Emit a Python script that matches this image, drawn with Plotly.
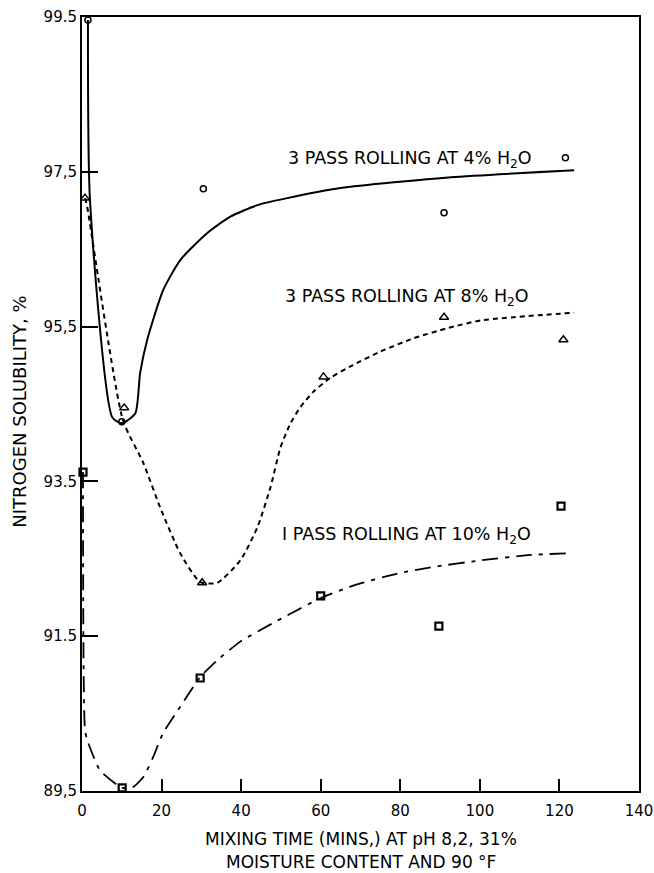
import plotly.graph_objects as go

# ---- data ----
# measured points
circ_x = [1.5, 10, 30.5, 91, 121.5]
circ_y = [99.46, 94.27, 97.28, 96.97, 97.68]
tri_x = [0.75, 10.6, 30.2, 60.7, 91, 121]
tri_y = [97.16, 94.45, 92.19, 94.85, 95.62, 95.33]
sq_x = [0.25, 10.1, 29.7, 60, 89.7, 120.4]
sq_y = [93.62, 89.54, 90.96, 92.02, 91.63, 93.18]

# hand-drawn fitted curves (traced)
c4_x = [1.5, 2.0, 7.6, 10, 13.4, 14.6, 16.4, 20.4, 24.7, 31.5, 37.3, 44.1, 51.6, 65, 92.7, 123.7]
c4_y = [99.46, 97.14, 94.33, 94.25, 94.38, 94.9, 95.33, 95.97, 96.36, 96.71, 96.92, 97.07, 97.16, 97.29, 97.43, 97.52]
c8_x = [0.8, 1.3, 10.3, 15.4, 19.6, 24.7, 29.7, 34, 39.8, 44.1, 47.4, 49.9, 52.4, 54.9, 58.2, 62.5, 68, 75.1, 83.4, 91.9, 100.3, 123.7]
c8_y = [97.16, 97.05, 94.29, 93.74, 93.17, 92.57, 92.2, 92.19, 92.48, 92.91, 93.43, 93.94, 94.25, 94.46, 94.66, 94.84, 95.0, 95.18, 95.35, 95.48, 95.58, 95.68]
c10_x = [0.25, 0.75, 1.3, 4.5, 8.8, 10.1, 12.8, 15.4, 17.9, 20.4, 24.7, 29.7, 34, 39.8, 46.6, 53.1, 59.9, 68, 79.3, 87.7, 100.3, 112.8, 122.2]
c10_y = [93.62, 90.29, 90.16, 89.77, 89.58, 89.54, 89.55, 89.68, 89.94, 90.25, 90.59, 90.97, 91.19, 91.43, 91.63, 91.81, 91.99, 92.15, 92.31, 92.39, 92.48, 92.55, 92.57]

x_ticks = [0, 20, 40, 60, 80, 100, 120, 140]
y_ticks = [89.5, 91.5, 93.5, 95.5, 97.5, 99.5]
y_ticktext = ["89,5", "91.5", "93.5", "95,5", "97,5", "99.5"]

labels = ["3 PASS ROLLING AT 4% H<sub>2</sub>O",
          "3 PASS ROLLING AT 8% H<sub>2</sub>O",
          "I PASS ROLLING AT 10% H<sub>2</sub>O"]
label_x = [51.2, 50.6, 49.8]
label_y = [97.66, 95.88, 92.8]

x_title_lines = ["MIXING TIME (MINS,) AT pH 8,2, 31%", "MOISTURE CONTENT AND 90 °F"]
y_title = "NITROGEN SOLUBILITY, %"

FONT = "DejaVu Sans"
W, H = 654, 873
ML, MR, MT, MB = 82, 15, 17, 82
PW, PH = W - ML - MR, H - MT - MB

fig = go.Figure()
fig.add_trace(go.Scatter(x=c4_x, y=c4_y, mode="lines",
                         line=dict(color="black", width=2, shape="spline", smoothing=0.6),
                         hoverinfo="skip", cliponaxis=False))
fig.add_trace(go.Scatter(x=c8_x, y=c8_y, mode="lines",
                         line=dict(color="black", width=2, shape="spline", smoothing=0.6, dash="5px,4px"),
                         hoverinfo="skip", cliponaxis=False))
fig.add_trace(go.Scatter(x=c10_x, y=c10_y, mode="lines",
                         line=dict(color="black", width=1.8, shape="spline", smoothing=0.6, dash="16px,7px,4px,7px"),
                         hoverinfo="skip", cliponaxis=False))
fig.add_trace(go.Scatter(x=circ_x, y=circ_y, mode="markers",
                         marker=dict(symbol="circle-open", size=6, color="black", line=dict(width=1.5)),
                         cliponaxis=False))
fig.add_trace(go.Scatter(x=tri_x, y=tri_y, mode="markers",
                         marker=dict(symbol="triangle-up-open", size=8, color="black", line=dict(width=1.5)),
                         cliponaxis=False))
fig.add_trace(go.Scatter(x=sq_x, y=sq_y, mode="markers",
                         marker=dict(symbol="square-open", size=7, color="black", line=dict(width=2.2)),
                         cliponaxis=False))

for t, lx, ly in zip(labels, label_x, label_y):
    fig.add_annotation(x=lx, y=ly, text=t, showarrow=False, xanchor="left", yanchor="middle",
                       font=dict(family=FONT, size=17.5, color="black"))

# axis titles (placed as paper annotations for exact positioning)
for i, line in enumerate(x_title_lines):
    fig.add_annotation(xref="paper", yref="paper", x=0.5, y=-(48 + 23 * i) / PH, text=line,
                       showarrow=False, xanchor="center", yanchor="middle",
                       font=dict(family=FONT, size=17, color="black"))
fig.add_annotation(xref="paper", yref="paper", x=-(62 / PW), y=0.49, text=y_title, textangle=-90,
                   showarrow=False, xanchor="center", yanchor="middle",
                   font=dict(family=FONT, size=18, color="black"))

fig.update_layout(
    width=W, height=H,
    margin=dict(l=ML, r=MR, t=MT, b=MB),
    paper_bgcolor="white", plot_bgcolor="white",
    showlegend=False,
    font=dict(family=FONT, size=16, color="black"),
)
fig.update_xaxes(range=[0, 140], tickvals=x_ticks, ticks="inside", ticklen=12, tickwidth=2,
                 tickcolor="black", showline=True, linecolor="black", linewidth=2, mirror=True,
                 showgrid=False, zeroline=False, automargin=False, ticklabeloverflow="allow",
                 ticklabelstandoff=5,
                 tickfont=dict(family=FONT, size=15))
fig.update_yaxes(range=[89.5, 99.5], tickvals=y_ticks, ticktext=y_ticktext, ticks="inside",
                 ticklen=16, tickwidth=2, tickcolor="black", showline=True, linecolor="black",
                 linewidth=2, mirror=True, showgrid=False, zeroline=False, automargin=False,
                 ticklabeloverflow="allow",
                 tickfont=dict(family=FONT, size=15))

fig.write_html("out.html")
